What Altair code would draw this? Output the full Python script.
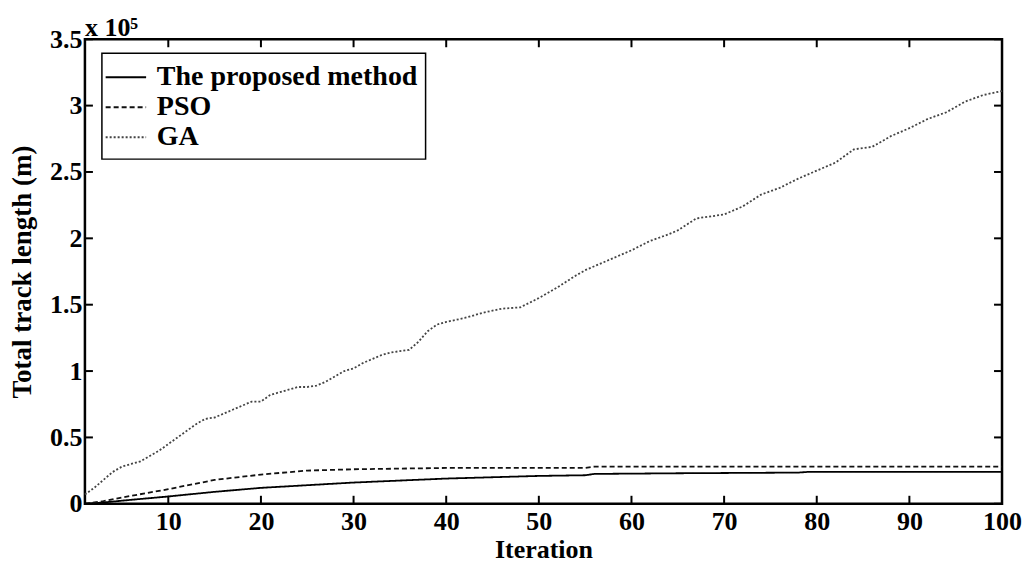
import altair as alt
import pandas as pd

# values in units of 10^5 m (as on the axis)
methods = ["The proposed method", "PSO", "GA"]

prop_iter = [1, 3, 6, 10, 15, 20, 25, 30, 35, 40, 45, 50, 55, 56, 65, 78, 79, 100]
prop_val = [0.0, 0.01, 0.03, 0.055, 0.09, 0.12, 0.14, 0.16, 0.175, 0.19, 0.20, 0.21, 0.215, 0.225, 0.23, 0.235, 0.24, 0.24]

pso_iter = [1, 3, 6, 10, 15, 20, 25, 30, 35, 40, 55, 56, 100]
pso_val = [0.0, 0.02, 0.06, 0.11, 0.18, 0.22, 0.25, 0.26, 0.265, 0.27, 0.27, 0.28, 0.28]

ga_iter = [1, 2, 3, 4, 5, 6, 7, 8, 9, 10, 11, 12, 13, 14, 15, 16, 17, 18, 19, 20,
           21, 22, 23, 24, 25, 26, 27, 28, 29, 30, 31, 32, 33, 34, 35, 36, 37, 38, 39, 40,
           42, 44, 46, 48, 50, 52, 54, 55, 57, 60, 62, 64, 65, 67, 69, 70, 72, 74, 76, 78,
           80, 82, 84, 86, 88, 90, 92, 94, 96, 98, 100]
ga_val = [0.07, 0.12, 0.18, 0.24, 0.28, 0.30, 0.32, 0.36, 0.40, 0.45, 0.50, 0.55, 0.60, 0.64, 0.65, 0.68, 0.71, 0.74, 0.77, 0.77,
          0.82, 0.84, 0.86, 0.88, 0.88, 0.89, 0.92, 0.96, 1.00, 1.02, 1.06, 1.09, 1.12, 1.14, 1.15, 1.16, 1.22, 1.30, 1.35, 1.37,
          1.40, 1.44, 1.47, 1.48, 1.55, 1.63, 1.72, 1.76, 1.82, 1.91, 1.98, 2.03, 2.06, 2.15, 2.17, 2.18, 2.24, 2.33, 2.38, 2.45,
          2.51, 2.57, 2.67, 2.69, 2.77, 2.83, 2.90, 2.95, 3.03, 3.08, 3.11]

x_ticks = [10, 20, 30, 40, 50, 60, 70, 80, 90, 100]
y_ticks = [0, 0.5, 1, 1.5, 2, 2.5, 3, 3.5]

rows = []
for name, its, vals in [(methods[0], prop_iter, prop_val), (methods[1], pso_iter, pso_val), (methods[2], ga_iter, ga_val)]:
    for i, v in zip(its, vals):
        rows.append({"Iteration": i, "Length": v, "Method": name})
df = pd.DataFrame(rows)
xt_df = pd.DataFrame({"Iteration": x_ticks})
yt_df = pd.DataFrame({"Length": y_ticks})

FONT = "Liberation Serif"
W, H = 918, 465
TICK = 8

xscale = alt.Scale(domain=[1, 100], nice=False)
yscale = alt.Scale(domain=[0, 3.5], nice=False)

color = alt.Color("Method:N", sort=methods, title=None,
                  scale=alt.Scale(domain=methods, range=["#000000", "#111111", "#444444"]))
dash = alt.StrokeDash("Method:N", sort=methods, title=None,
                      scale=alt.Scale(domain=methods, range=[[1, 0], [5, 3], [2, 2]]))

lines = alt.Chart(df).mark_line(strokeWidth=1.8).encode(
    x=alt.X("Iteration:Q", scale=xscale,
            axis=alt.Axis(orient="bottom", values=x_ticks, title="Iteration",
                          ticks=False, labelFlush=False, labelPadding=5, titlePadding=2,
                          titleFontSize=26)),
    y=alt.Y("Length:Q", scale=yscale,
            axis=alt.Axis(orient="left", values=y_ticks, title="Total track length (m)",
                          format=".1~f", ticks=False, labelPadding=3, titlePadding=13)),
    color=color,
    strokeDash=dash,
    order="Iteration:Q",
)

# inward tick marks on the four sides of the frame
tick_style = dict(color="black", strokeWidth=2)
xt = alt.Chart(xt_df)
yt = alt.Chart(yt_df)
ticks_bottom = xt.mark_rule(**tick_style).encode(
    x=alt.X("Iteration:Q", scale=xscale, axis=None), y=alt.value(H), y2=alt.value(H - TICK))
ticks_top = xt.mark_rule(**tick_style).encode(
    x=alt.X("Iteration:Q", scale=xscale, axis=None), y=alt.value(0), y2=alt.value(TICK))
ticks_left = yt.mark_rule(**tick_style).encode(
    y=alt.Y("Length:Q", scale=yscale, axis=None), x=alt.value(0), x2=alt.value(TICK))
ticks_right = yt.mark_rule(**tick_style).encode(
    y=alt.Y("Length:Q", scale=yscale, axis=None), x=alt.value(W), x2=alt.value(W - TICK))

chart = alt.layer(lines, ticks_bottom, ticks_top, ticks_left, ticks_right).resolve_axis(
    x="independent", y="independent"
).properties(
    width=W, height=H,
    padding={"left": 0, "top": 7, "right": 0, "bottom": 0},
    title=alt.TitleParams("x 10\u2075", anchor="start", frame="group", font=FONT,
                          fontSize=26, fontWeight="bold", color="black", offset=0, dy=15),
).configure_view(
    stroke="black", strokeWidth=2.5
).configure_axis(
    domain=False, grid=False,
    labelFont=FONT, labelFontSize=26, labelFontWeight="bold", labelColor="black",
    titleFont=FONT, titleFontSize=27, titleFontWeight="bold", titleColor="black",
).configure_legend(
    orient="none", legendX=17, legendY=14,
    strokeColor="black", strokeWidth=1.5, fillColor="white", padding=8, cornerRadius=0,
    symbolType="M-1.35,0L1.35,0", symbolSize=900, symbolStrokeWidth=2,
    labelFont=FONT, labelFontSize=28, labelFontWeight="bold", labelColor="black",
    labelOffset=15, rowPadding=0, labelLimit=400,
)

chart.save("out.html", embed_options={"renderer": "svg", "actions": False})
